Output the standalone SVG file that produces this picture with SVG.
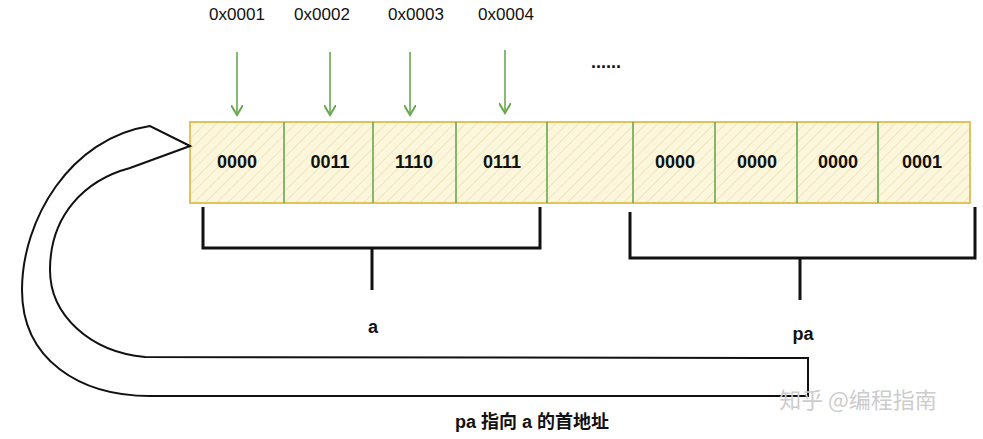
<svg xmlns="http://www.w3.org/2000/svg" width="983" height="439" viewBox="0 0 983 439">
<style>
.t{font-family:"Liberation Sans",Arial,sans-serif;font-weight:bold;font-size:18px;text-anchor:middle;fill:#111}
.addr{font-family:"Liberation Sans",Arial,sans-serif;font-size:17px;text-anchor:middle;fill:#111}
.g{stroke:#6aa84f;stroke-width:1.6;fill:none}
.b{stroke:#111;stroke-width:3;fill:none}
</style>
<defs>
<pattern id="h" width="8" height="8" patternUnits="userSpaceOnUse" patternTransform="rotate(45)"><rect width="8" height="8" fill="#fbf6dc"/><line x1="0" y1="0" x2="0" y2="8" stroke="#ece2b0" stroke-width="1.5"/></pattern>
<marker id="ga" markerWidth="12" markerHeight="12" refX="10" refY="6" orient="auto" markerUnits="userSpaceOnUse"><path d="M0,0 L10,6 L0,12" fill="none" stroke="#6aa84f" stroke-width="2"/></marker>
</defs>
<g id="memory">
<rect x="190" y="122" width="780" height="81" fill="url(#h)" stroke="#e2c25c" stroke-width="2"/>
<path class="g" d="M284,122V203M373,122V203M456,122V203M547,122V203M633,122V203M715,122V203M797,122V203M878,122V203"/>
<text class="t" x="237" y="168">0000</text>
<text class="t" x="330" y="168">0011</text>
<text class="t" x="414" y="168">1110</text>
<text class="t" x="502" y="168">0111</text>
<text class="t" x="675" y="168">0000</text>
<text class="t" x="757" y="168">0000</text>
<text class="t" x="838" y="168">0000</text>
<text class="t" x="922" y="168">0001</text>
</g>
<g id="addresses">
<text class="addr" x="237" y="20">0x0001</text>
<text class="addr" x="322" y="20">0x0002</text>
<text class="addr" x="416" y="20">0x0003</text>
<text class="addr" x="506" y="20">0x0004</text>
<text class="t" x="606" y="68">......</text>
</g>
<g id="connectors">
<path class="g" marker-end="url(#ga)" d="M237,52V115"/>
<path class="g" marker-end="url(#ga)" d="M330,52V115"/>
<path class="g" marker-end="url(#ga)" d="M410,52V115"/>
<path class="g" marker-end="url(#ga)" d="M505,50V113"/>
<path class="b" d="M203,207V248H540V207M372,248V290"/>
<path class="b" d="M630,212V258H975V207M800,258V300"/>
<path d="M190,146 L150,126 C70,138 22,220 22,290 C22,360 80,396 150,396 L808,396 L808,358 L145,357 C90,352 50,315 50,270 C50,215 85,180 130,168 Z" fill="none" stroke="#111" stroke-width="2"/>
</g>
<g id="labels">
<text class="t" x="373" y="333">a</text>
<text class="t" x="803" y="340">pa</text>
<text class="t" x="532" y="428" style="font-family:'Liberation Sans','Noto Sans CJK SC',sans-serif">pa 指向 a 的首地址</text>
<text x="858" y="408" style="font-family:'Noto Sans CJK SC',sans-serif;font-size:22px;text-anchor:middle;fill:#ccc">知乎 @编程指南</text>
</g>
</svg>
